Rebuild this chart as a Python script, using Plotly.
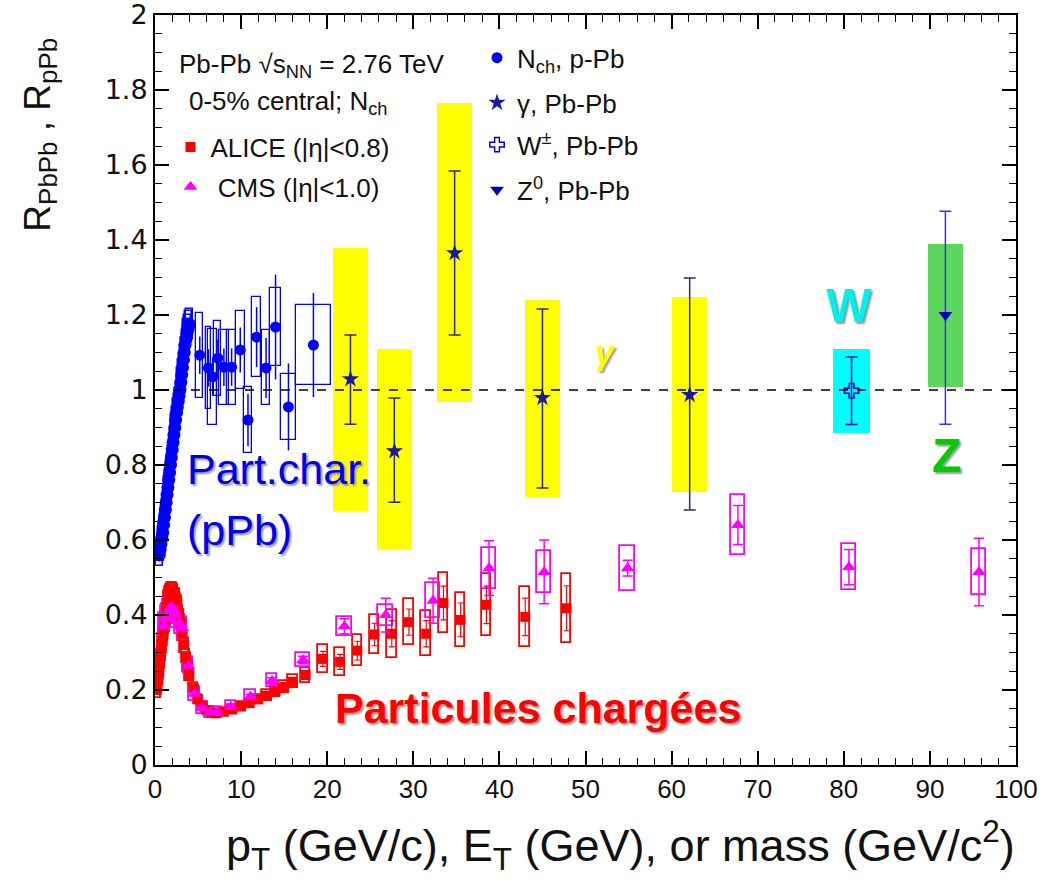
import plotly.graph_objects as go

# ---------------- data ----------------
# ALICE Pb-Pb charged particles (0-5%)
alice_x = [0.2, 0.3, 0.4, 0.5, 0.6, 0.7, 0.8, 0.9, 1.0, 1.1, 1.2, 1.3, 1.4, 1.5, 1.6, 1.7, 1.8, 1.9, 2.0,
           2.2, 2.4, 2.6, 2.8, 3.0, 3.2, 3.4, 3.6, 3.8, 4.0,
           4.5, 5.0, 5.5, 6.0, 6.5, 7.0,
           8.0, 9.0, 10.0, 11.0, 12.0, 13.0, 14.0, 15.0, 16.0,
           17.5, 19.5, 21.5, 23.5, 25.5, 27.5, 29.5, 31.5, 33.5, 35.5, 38.5, 43.0, 47.8]
alice_y = [0.20, 0.21, 0.23, 0.25, 0.27, 0.29, 0.31, 0.33, 0.35, 0.37, 0.39, 0.41, 0.42, 0.435, 0.445, 0.455, 0.46, 0.465, 0.465,
           0.46, 0.45, 0.43, 0.405, 0.38, 0.35, 0.32, 0.29, 0.265, 0.24,
           0.205, 0.175, 0.158, 0.146, 0.14, 0.138,
           0.142, 0.148, 0.156, 0.165, 0.175, 0.185, 0.196, 0.208, 0.222,
           0.24, 0.283, 0.275, 0.305, 0.348, 0.35, 0.381, 0.35, 0.432, 0.387, 0.427, 0.395, 0.418]
alice_sys = [0.02, 0.02, 0.02, 0.02, 0.02, 0.02, 0.02, 0.02, 0.02, 0.02, 0.02, 0.02, 0.02, 0.02, 0.02, 0.02, 0.02, 0.02, 0.02,
             0.02, 0.02, 0.02, 0.02, 0.02, 0.02, 0.02, 0.018, 0.016, 0.015,
             0.013, 0.012, 0.011, 0.01, 0.01, 0.01,
             0.01, 0.011, 0.012, 0.012, 0.013, 0.014, 0.015, 0.016, 0.017,
             0.02, 0.037, 0.038, 0.042, 0.051, 0.064, 0.062, 0.06, 0.08, 0.071, 0.082, 0.08, 0.092]
alice_stat = [0.002, 0.002, 0.002, 0.002, 0.002, 0.002, 0.002, 0.002, 0.002, 0.002, 0.002, 0.002, 0.002, 0.002, 0.002, 0.002, 0.002, 0.002, 0.002,
              0.002, 0.002, 0.002, 0.002, 0.002, 0.002, 0.002, 0.002, 0.002, 0.002,
              0.002, 0.002, 0.002, 0.002, 0.002, 0.002,
              0.003, 0.003, 0.004, 0.004, 0.005, 0.006, 0.007, 0.008, 0.01,
              0.012, 0.02, 0.02, 0.025, 0.03, 0.035, 0.035, 0.035, 0.045, 0.045, 0.05, 0.05, 0.06]

# CMS Pb-Pb charged particles
cms_x = [1.0, 1.2, 1.4, 1.6, 1.8, 2.0, 2.2, 2.4, 2.8, 3.2, 3.9, 4.6, 5.5, 6.4, 7.2, 8.8, 11.1, 13.6, 17.2,
         22.0, 26.8, 32.3, 38.8, 45.2, 54.9, 67.7, 80.6, 95.7]
cms_y = [0.37, 0.39, 0.40, 0.41, 0.42, 0.42, 0.41, 0.40, 0.38, 0.365, 0.265, 0.19, 0.152, 0.14, 0.14, 0.155, 0.183, 0.225, 0.28,
         0.37, 0.40, 0.438, 0.525, 0.515, 0.525, 0.64, 0.528, 0.515]
cms_sys = [0.035, 0.035, 0.035, 0.035, 0.035, 0.035, 0.035, 0.035, 0.03, 0.03, 0.022, 0.018, 0.015, 0.015, 0.015, 0.015, 0.016, 0.017, 0.018,
           0.025, 0.028, 0.047, 0.055, 0.057, 0.06, 0.08, 0.062, 0.062]
cms_stat = [0.003, 0.003, 0.003, 0.003, 0.003, 0.003, 0.003, 0.003, 0.003, 0.003, 0.003, 0.003, 0.003, 0.003, 0.004, 0.005, 0.006, 0.008, 0.01,
            0.02, 0.045, 0.06, 0.073, 0.085, 0.021, 0.052, 0.047, 0.09]

# ALICE p-Pb charged particles (N_ch), low-pT dense part
nch_x = [0.5, 0.6, 0.7, 0.8, 0.9, 1.0, 1.1, 1.2, 1.3, 1.4, 1.5, 1.6, 1.7, 1.8, 1.9, 2.0,
         2.1, 2.2, 2.3, 2.4, 2.5, 2.6, 2.7, 2.8, 2.9, 3.0, 3.1, 3.2, 3.3, 3.4, 3.5, 3.6, 3.7, 3.8, 3.9, 4.0]
nch_y = [0.56, 0.575, 0.59, 0.605, 0.62, 0.64, 0.66, 0.68, 0.70, 0.72, 0.74, 0.76, 0.78, 0.80, 0.82, 0.84,
         0.86, 0.88, 0.90, 0.92, 0.94, 0.955, 0.97, 0.985, 1.0, 1.02, 1.04, 1.06, 1.08, 1.10, 1.12, 1.135, 1.15, 1.16, 1.17, 1.175]
nch_sys = [0.03, 0.03, 0.03, 0.03, 0.03, 0.03, 0.03, 0.03, 0.03, 0.03, 0.03, 0.03, 0.03, 0.03, 0.03, 0.03,
           0.035, 0.035, 0.035, 0.035, 0.035, 0.035, 0.035, 0.035, 0.035, 0.04, 0.04, 0.04, 0.04, 0.04, 0.04, 0.04, 0.04, 0.04, 0.04, 0.04]
# N_ch p-Pb, high-pT bins
nchh_x = [5.2, 6.2, 6.7, 7.3, 8.0, 8.9, 9.9, 10.8, 11.8, 12.9, 14.0, 15.5, 18.4]
nchh_y = [1.093, 1.059, 1.035, 1.085, 1.061, 1.061, 1.107, 0.92, 1.141, 1.059, 1.168, 0.955, 1.12]
nchh_sys = [0.113, 0.11, 0.127, 0.1, 0.1, 0.1, 0.104, 0.087, 0.107, 0.1, 0.105, 0.087, 0.107]
nchh_stat = [0.05, 0.05, 0.05, 0.05, 0.05, 0.05, 0.06, 0.07, 0.08, 0.08, 0.14, 0.116, 0.139]
nchh_binw = [0.8, 0.6, 1.0, 0.8, 1.2, 1.0, 1.0, 1.0, 1.0, 1.0, 1.2, 1.8, 4.0]

# isolated photons
gamma_x = [22.7, 27.8, 34.8, 45.0, 62.1]
gamma_y = [1.029, 0.837, 1.365, 0.979, 0.987]
gamma_stat_up = [0.118, 0.142, 0.219, 0.237, 0.312]
gamma_stat_dn = [0.12, 0.136, 0.218, 0.24, 0.307]
gamma_sys_up = [0.35, 0.272, 0.40, 0.261, 0.261]
gamma_sys_dn = [0.352, 0.264, 0.397, 0.264, 0.259]

# W and Z
w_x = [80.9]
w_y = [0.998]
w_stat = [0.09]
w_sys_up = [0.111]
w_sys_dn = [0.112]

z_x = [91.8]
z_y = [1.2]
z_stat_up = [0.277]
z_stat_dn = [0.291]
z_sys_up = [0.189]
z_sys_dn = [0.192]

x_ticks = [0, 10, 20, 30, 40, 50, 60, 70, 80, 90, 100]
y_ticks = [0, 0.2, 0.4, 0.6, 0.8, 1, 1.2, 1.4, 1.6, 1.8, 2]
y_ticktext = ["0", "0.2", "0.4", "0.6", "0.8", "1", "1.2", "1.4", "1.6", "1.8", "2"]

# ---------------- styles ----------------
RED = "#ff0000"
MAG = "#ff00ff"
BLUE = "#0000ff"
NAVY = "#1a1aa0"
SANS = "Liberation Sans, Arial, sans-serif"
NARROW = "Liberation Sans Narrow, Arial Narrow, Liberation Sans, Arial, sans-serif"
SHADOW = "2px 2px 2px #9a9a9a"
LEGFONT = 26

fig = go.Figure()


def box_trace(xs, ys, up, dn, width, color, fill=None, lw=1.5):
    return go.Bar(
        x=xs,
        y=[u + d for u, d in zip(up, dn)],
        base=[y - d for y, d in zip(ys, dn)],
        width=width,
        marker=dict(color=fill if fill else "rgba(0,0,0,0)",
                    line=dict(color=color, width=0 if fill else lw)),
        showlegend=False,
        hoverinfo="skip",
    )


# filled systematic boxes
fig.add_trace(box_trace(gamma_x, gamma_y, gamma_sys_up, gamma_sys_dn, 4.1, "#ffff00", fill="#ffff00"))
fig.add_trace(box_trace(w_x, w_y, w_sys_up, w_sys_dn, 4.2, "#00ffff", fill="#00ffff"))
fig.add_trace(box_trace(z_x, z_y, z_sys_up, z_sys_dn, 4.1, "#5cd65c", fill="#5cd65c"))

# outline systematic boxes
alice_w = [1.0 if x < 10 else 1.1 for x in alice_x]
fig.add_trace(box_trace(alice_x, alice_y, alice_sys, alice_sys, alice_w, RED, lw=1.8))
cms_w = [1.0 if x < 4 else (1.2 if x < 15 else 1.7) for x in cms_x]
fig.add_trace(box_trace(cms_x, cms_y, cms_sys, cms_sys, cms_w, MAG, lw=1.8))
fig.add_trace(box_trace(nch_x, nch_y, nch_sys, nch_sys, 0.8, BLUE, lw=1.5))
fig.add_trace(box_trace(nchh_x, nchh_y, nchh_sys, nchh_sys, nchh_binw, BLUE, lw=1.3))

# points
fig.add_trace(go.Scatter(
    x=alice_x, y=alice_y, mode="markers", name="ALICE (|η|<0.8)",
    marker=dict(symbol="square", size=10, color=RED),
    error_y=dict(type="data", array=alice_stat, color=RED, thickness=1.2, width=3),
    legend="legend"))
fig.add_trace(go.Scatter(
    x=cms_x, y=cms_y, mode="markers", name="\u00a0CMS (|η|<1.0)",
    marker=dict(symbol="triangle-up", size=12, color=MAG),
    error_y=dict(type="data", array=cms_stat, color=MAG, thickness=1.5, width=5),
    legend="legend2"))
fig.add_trace(go.Scatter(
    x=nch_x, y=nch_y, mode="markers", showlegend=False,
    marker=dict(symbol="circle", size=13, color=BLUE)))
fig.add_trace(go.Scatter(
    x=nchh_x, y=nchh_y, mode="markers", name="N<sub>ch</sub>, p-Pb",
    marker=dict(symbol="circle", size=11, color=BLUE),
    error_y=dict(type="data", array=nchh_stat, color=BLUE, thickness=1.5, width=0),
    legend="legend3"))
fig.add_trace(go.Scatter(
    x=gamma_x, y=gamma_y, mode="markers", name="γ, Pb-Pb",
    marker=dict(symbol="star", size=13, color=NAVY),
    error_y=dict(type="data", symmetric=False, array=gamma_stat_up, arrayminus=gamma_stat_dn,
                 color="#2b2b6e", thickness=1.5, width=6),
    legend="legend4"))
fig.add_trace(go.Scatter(
    x=w_x, y=w_y, mode="markers", name="W<sup>±</sup>, Pb-Pb",
    marker=dict(symbol="cross-open", size=12, color="#0000cc", line=dict(width=1.5)),
    error_y=dict(type="data", array=w_stat, color="#0000cc", thickness=1.5, width=6),
    legend="legend5"))
fig.add_trace(go.Scatter(
    x=z_x, y=z_y, mode="markers", name="Z<sup>0</sup>, Pb-Pb",
    marker=dict(symbol="triangle-down", size=12, color="#0000bb"),
    error_y=dict(type="data", symmetric=False, array=z_stat_up, arrayminus=z_stat_dn,
                 color="#3333ee", thickness=1.5, width=6),
    legend="legend6"))

# reference line at 1
fig.add_shape(type="line", xref="paper", x0=0, x1=1, yref="y", y0=1, y1=1,
              line=dict(color="black", width=1.5, dash="dash"), layer="above")


# legends
def leg(x, y):
    return dict(x=x, y=y, xanchor="left", yanchor="middle", bgcolor="rgba(0,0,0,0)",
                borderwidth=0, font=dict(family=SANS, size=LEGFONT, color="#111"),
                itemwidth=30, tracegroupgap=0)


fig.update_layout(
    legend=leg(0.018, 0.824),
    legend2=leg(0.018, 0.771),
    legend3=leg(0.374, 0.943),
    legend4=leg(0.374, 0.883),
    legend5=leg(0.374, 0.827),
    legend6=leg(0.374, 0.767),
)

annotations = [
    dict(text="Pb-Pb √s<sub>NN</sub> = 2.76 TeV", x=0.0256, y=0.933, xanchor="left", yanchor="middle",
         font=dict(family=SANS, size=LEGFONT, color="#111")),
    dict(text="0-5% central; N<sub>ch</sub>", x=0.0372, y=0.884, xanchor="left", yanchor="middle",
         font=dict(family=SANS, size=LEGFONT, color="#111")),
    dict(text="Part.char.", x=0.035, y=0.395, xanchor="left", yanchor="middle",
         font=dict(family=SANS, size=43, color="#0000ee", shadow=SHADOW)),
    dict(text="(pPb)", x=0.035, y=0.313, xanchor="left", yanchor="middle",
         font=dict(family=SANS, size=43, color="#0000ee", shadow=SHADOW)),
    dict(text="<b>Particules chargées</b>", x=0.445, y=0.076, xanchor="center", yanchor="middle",
         font=dict(family=SANS, size=43, color="#ff0000", shadow=SHADOW)),
    dict(text="<b><i>γ</i></b>", x=0.523, y=0.55, xanchor="center", yanchor="middle",
         font=dict(family=SANS, size=34, color="#ffff00", shadow=SHADOW)),
    dict(text="<b>W</b>", x=0.806, y=0.613, xanchor="center", yanchor="middle",
         font=dict(family=SANS, size=48, color="#00f0f0", shadow=SHADOW)),
    dict(text="<b>Z</b>", x=0.919, y=0.413, xanchor="center", yanchor="middle",
         font=dict(family=SANS, size=48, color="#00cc00", shadow=SHADOW)),
    dict(text="R<sub>PbPb</sub> , R<sub>pPb</sub>", x=-0.134, y=0.84, textangle=-90,
         xanchor="center", yanchor="middle",
         font=dict(family=SANS, size=37, color="#111")),
    dict(text="p<sub>T</sub> (GeV/c), E<sub>T</sub> (GeV), or mass (GeV/c<sup>2</sup>)",
         x=0.541, y=-0.107, xanchor="center", yanchor="middle",
         font=dict(family=NARROW, size=45, color="#111")),
]
for a in annotations:
    a.update(xref="paper", yref="paper", showarrow=False)
fig.update_layout(annotations=annotations)

axis_common = dict(
    showline=True, linecolor="black", linewidth=2, mirror="ticks",
    ticks="inside", ticklen=14, tickwidth=1.5, tickcolor="black",
    showgrid=False, zeroline=False, automargin=False, ticklabeloverflow="allow",
)
fig.update_xaxes(range=[0, 100], tickvals=x_ticks, ticktext=[str(v) for v in x_ticks],
                 tickfont=dict(family=NARROW, size=26, color="#111"),
                 minor=dict(dtick=2, ticklen=7, ticks="inside", tickcolor="black", tickwidth=1.2),
                 **axis_common)
fig.update_yaxes(range=[0, 2], tickvals=y_ticks, ticktext=y_ticktext,
                 tickfont=dict(family="DejaVu Sans, Verdana, sans-serif", size=27, color="#111"),
                 minor=dict(dtick=0.05, ticklen=7, ticks="inside", tickcolor="black", tickwidth=1.2),
                 **axis_common)

fig.update_layout(
    width=1061, height=881,
    margin=dict(l=155, r=45, t=15, b=116),
    paper_bgcolor="white", plot_bgcolor="white",
    barmode="overlay", bargap=0,
    hovermode=False,
)

fig.write_html("out.html", config={"displayModeBar": False},
               post_script="document.body.style.margin='0';")
